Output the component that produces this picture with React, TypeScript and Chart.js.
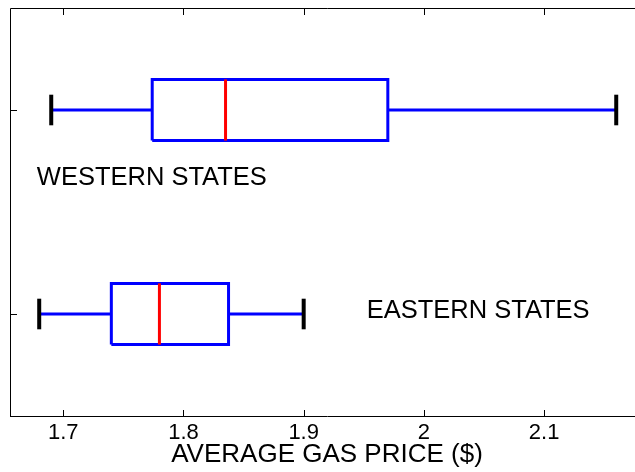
import React, { useEffect, useRef } from 'react';
import { Chart, registerables } from 'chart.js';

Chart.register(...registerables);

// ---- data ----
const categories = ['EASTERN STATES', 'WESTERN STATES'];
const categoryPos = [1, 2];
const whiskerLow = [1.68, 1.69];
const q1 = [1.74, 1.774];
const median = [1.78, 1.835];
const q3 = [1.8375, 1.97];
const whiskerHigh = [1.9, 2.16];

const xTicks = [1.7, 1.8, 1.9, 2.0, 2.1];
const yTicks = [1, 2];
const xMin = 1.6557;
const xMax = 2.1831;
const yMin = 0.5;
const yMax = 2.5;

const labelText = ['WESTERN STATES', 'EASTERN STATES'];
const labelX = [1.678, 1.9524];
const labelY = [1.632, 0.979];
const xTitle = 'AVERAGE GAS PRICE ($)';

// ---- styling constants ----
const BOX_HALF = 0.15;
const CAP_HALF = 0.075;
const FONT = "'Liberation Sans', Arial, Helvetica, sans-serif";
const BLUE = '#0000ff';
const RED = '#ff0000';
const BLACK = '#000000';

function lineDs(points: { x: number; y: number }[], color: string, width: number) {
  return {
    data: points,
    showLine: true,
    borderColor: color,
    backgroundColor: color,
    borderWidth: width,
    pointRadius: 0,
    pointHoverRadius: 0,
    fill: false,
    tension: 0,
    borderJoinStyle: 'miter' as const,
    borderCapStyle: 'butt' as const,
    clip: false as const,
  };
}

function buildDatasets() {
  const caps: any[] = [];
  const medians: any[] = [];
  const rest: any[] = [];
  categories.forEach((_, i) => {
    const y = categoryPos[i];
    caps.push(lineDs([{ x: whiskerLow[i], y: y - CAP_HALF }, { x: whiskerLow[i], y: y + CAP_HALF }], BLACK, 4));
    caps.push(lineDs([{ x: whiskerHigh[i], y: y - CAP_HALF }, { x: whiskerHigh[i], y: y + CAP_HALF }], BLACK, 4));
    medians.push(lineDs([{ x: median[i], y: y - BOX_HALF }, { x: median[i], y: y + BOX_HALF }], RED, 3));
    rest.push(lineDs([{ x: whiskerLow[i], y }, { x: q1[i], y }], BLUE, 3));
    rest.push(lineDs([{ x: q3[i], y }, { x: whiskerHigh[i], y }], BLUE, 3));
    rest.push(
      lineDs(
        [
          { x: q1[i], y: y - BOX_HALF },
          { x: q3[i], y: y - BOX_HALF },
          { x: q3[i], y: y + BOX_HALF },
          { x: q1[i], y: y + BOX_HALF },
          { x: q1[i], y: y - BOX_HALF },
        ],
        BLUE,
        3
      )
    );
  });
  return [...caps, ...medians, ...rest];
}

const framePlugin = {
  id: 'matlabFrame',
  afterDraw(chart: any) {
    const { ctx, chartArea } = chart;
    const xs = chart.scales.x;
    const ys = chart.scales.y;
    const { left, top, bottom, right } = chartArea;
    ctx.save();
    ctx.strokeStyle = BLACK;
    ctx.lineWidth = 1;
    ctx.beginPath();
    ctx.moveTo(left + 0.5, bottom);
    ctx.lineTo(left + 0.5, top + 0.5);
    ctx.lineTo(right, top + 0.5);
    xTicks.forEach((v) => {
      const px = Math.round(xs.getPixelForValue(v)) + 0.5;
      ctx.moveTo(px, bottom);
      ctx.lineTo(px, bottom - 6);
      ctx.moveTo(px, top);
      ctx.lineTo(px, top + 7);
    });
    yTicks.forEach((v) => {
      const py = Math.round(ys.getPixelForValue(v)) + 0.5;
      ctx.moveTo(left, py);
      ctx.lineTo(left + 7, py);
    });
    ctx.stroke();

    ctx.fillStyle = BLACK;
    ctx.font = `25.5px ${FONT}`;
    ctx.textAlign = 'left';
    ctx.textBaseline = 'alphabetic';
    labelText.forEach((t, i) => {
      ctx.fillText(t, xs.getPixelForValue(labelX[i]), ys.getPixelForValue(labelY[i]));
    });
    ctx.restore();
  },
};

export default function App() {
  const ref = useRef<HTMLCanvasElement | null>(null);

  useEffect(() => {
    if (!ref.current) return;
    const chart = new Chart(ref.current, {
      type: 'scatter',
      data: { datasets: buildDatasets() },
      options: {
        animation: false,
        responsive: false,
        devicePixelRatio: 1,
        events: [],
        layout: { padding: { left: 10, top: 8, right: 16, bottom: 0 } },
        plugins: {
          legend: { display: false },
          tooltip: { enabled: false },
        },
        scales: {
          x: {
            type: 'linear',
            position: 'bottom',
            min: xMin,
            max: xMax,
            afterBuildTicks: (scale: any) => {
              scale.ticks = xTicks.map((v) => ({ value: v }));
            },
            afterFit: (scale: any) => {
              scale.height = 56;
            },
            grid: { display: false, drawTicks: false },
            border: { display: true, color: BLACK, width: 1 },
            ticks: {
              autoSkip: false,
              maxRotation: 0,
              minRotation: 0,
              padding: 4,
              color: BLACK,
              font: { family: FONT, size: 22 },
              callback: (v: any) => String(Math.round(Number(v) * 10) / 10),
            },
            title: {
              display: true,
              text: xTitle,
              color: BLACK,
              font: { family: FONT, size: 26 },
              padding: { top: 0, bottom: 2 },
            },
          },
          y: {
            type: 'linear',
            display: false,
            min: yMin,
            max: yMax,
          },
        },
      },
      plugins: [framePlugin],
    });
    return () => chart.destroy();
  }, []);

  return (
    <div
      style={{
        position: 'absolute',
        left: 0,
        top: 0,
        width: 635,
        height: 472,
        overflow: 'hidden',
        background: '#fff',
      }}
    >
      <canvas ref={ref} width={660} height={472} style={{ width: 660, height: 472, display: 'block' }} />
    </div>
  );
}
